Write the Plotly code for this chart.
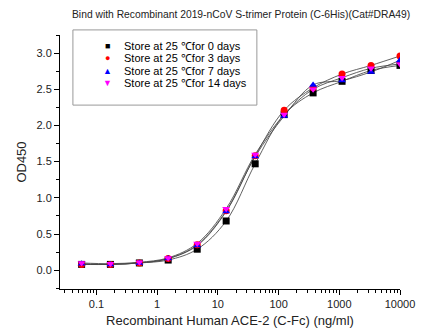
import plotly.graph_objects as go

# ACE-2 concentration (ng/ml), 3-fold dilution series
conc = [0.057, 0.17, 0.51, 1.52, 4.57, 13.7, 41.2, 123.5, 370.4, 1111, 3333, 10000]

# OD450 readings for each storage condition
od_day0 = [0.08, 0.08, 0.10, 0.14, 0.29, 0.68, 1.47, 2.15, 2.45, 2.61, 2.76, 2.83]
od_day3 = [0.08, 0.08, 0.10, 0.16, 0.35, 0.82, 1.58, 2.21, 2.52, 2.71, 2.83, 2.96]
od_day7 = [0.09, 0.08, 0.10, 0.16, 0.34, 0.81, 1.57, 2.13, 2.56, 2.62, 2.74, 2.90]
od_day14 = [0.10, 0.09, 0.11, 0.17, 0.37, 0.85, 1.60, 2.15, 2.50, 2.66, 2.79, 2.85]

series_names = ["Store at 25 ℃for 0 days", "Store at 25 ℃for 3 days",
                "Store at 25 ℃for 7 days", "Store at 25 ℃for 14 days"]
series_colors = ["black", "red", "blue", "magenta"]
series_symbols = ["square", "circle", "triangle-up", "triangle-down"]
legend_glyphs = ["■", "●", "▲", "▼"]

x_tick_vals = [0.1, 1, 10, 100, 1000, 10000]
x_tick_text = ["0.1", "1", "10", "100", "1000", "10000"]

all_od = [od_day0, od_day3, od_day7, od_day14]

fig = go.Figure()

# smooth curves through each series
for od in all_od:
    fig.add_trace(go.Scatter(x=conc, y=od, mode="lines",
                             line=dict(color="rgba(70,70,70,0.85)", width=1, shape="spline", smoothing=1.0),
                             hoverinfo="skip", showlegend=False))

for od, name, col, sym in zip(all_od, series_names, series_colors, series_symbols):
    fig.add_trace(go.Scatter(x=conc, y=od, mode="markers", name=name,
                             marker=dict(color=col, symbol=sym, size=7, line=dict(width=0)),
                             showlegend=False))

# legend box drawn by hand (Origin-style, wide padding)
fig.add_shape(type="rect", xref="paper", yref="paper", x0=0.038, x1=0.579, y0=0.724, y1=1.02,
              line=dict(color="#999999", width=1), fillcolor="white", layer="below")

for i, (name, col, g) in enumerate(zip(series_names, series_colors, legend_glyphs)):
    yp = (289 - (46 + i * 12.3)) / 254
    fig.add_annotation(x=(107 - 60) / 340, y=yp, xref="paper", yref="paper", text=g,
                       showarrow=False, font=dict(color=col, size=9), xanchor="center", yanchor="middle")
    fig.add_annotation(x=(122 - 60) / 340, y=yp, xref="paper", yref="paper", text=name,
                       showarrow=False, font=dict(color="black", size=11), xanchor="left", yanchor="middle")

fig.update_xaxes(type="log", range=[-1.6, 4.0], tickvals=x_tick_vals, ticktext=x_tick_text,
                 ticks="outside", ticklen=5, tickcolor="black", showline=True, linecolor="black",
                 linewidth=1, showgrid=False, zeroline=False, automargin=False,
                 minor=dict(ticks="outside", ticklen=3, tickcolor="black", dtick="D1", showgrid=False),
                 title=dict(text="Recombinant Human ACE-2 (C-Fc) (ng/ml)", font=dict(size=13), standoff=6),
                 tickfont=dict(size=11))
fig.update_yaxes(range=[-0.26, 3.25], dtick=0.5, tick0=0, tickformat=".1f",
                 ticks="outside", ticklen=5, tickcolor="black", showline=True, linecolor="black",
                 linewidth=1, showgrid=False, zeroline=False, automargin=False,
                 minor=dict(ticks="outside", ticklen=3, tickcolor="black", dtick=0.25, showgrid=False),
                 title=dict(text="OD450", font=dict(size=13), standoff=6),
                 tickfont=dict(size=11))

fig.update_layout(width=427, height=331, margin=dict(l=60, r=27, t=35, b=42),
                  plot_bgcolor="white", paper_bgcolor="white",
                  font=dict(family="Liberation Sans, Arial, sans-serif", color="#222222"),
                  title=dict(text="Bind with Recombinant 2019-nCoV S-trimer Protein (C-6His)(Cat#DRA49)",
                             x=72 / 427, xanchor="left", y=1 - 14 / 331, yref="container", yanchor="middle",
                             font=dict(size=10.3), automargin=False),
                  showlegend=False)

# page has a default 8px body margin; drop it so the figure sits at the window's corner
fig.write_html("out.html", config={"displayModeBar": False},
               post_script="document.body.style.margin='0';")
